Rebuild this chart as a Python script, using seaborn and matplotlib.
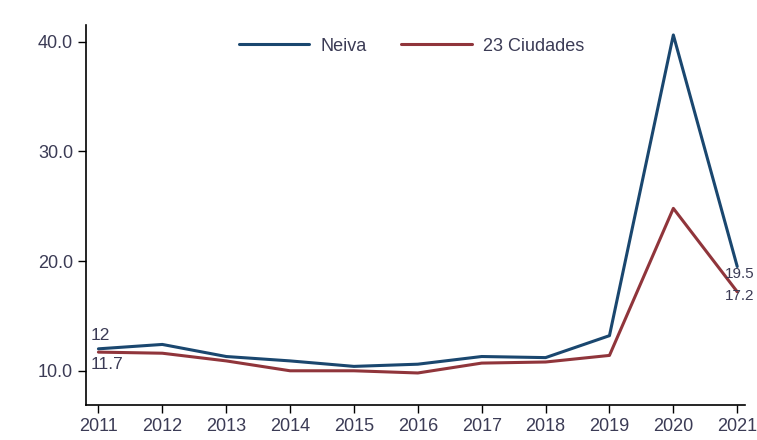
import pandas as pd
import matplotlib
matplotlib.use("Agg")
import matplotlib.pyplot as plt
import seaborn as sns

# =========================
# DATA
# =========================
years = [2011, 2012, 2013, 2014, 2015, 2016, 2017, 2018, 2019, 2020, 2021]

neiva = [12.0, 12.4, 11.3, 10.9, 10.4, 10.6, 11.3, 11.2, 13.2, 40.6, 19.5]

ciudades = [11.7, 11.6, 10.9, 10.0, 10.0, 9.8, 10.7, 10.8, 11.4, 24.8, 17.2]

series_names = ["Neiva", "23 Ciudades"]

df = pd.DataFrame({
    "Año": years * 2,
    "Valor": neiva + ciudades,
    "Serie": [series_names[0]] * len(years) + [series_names[1]] * len(years)
})

# =========================
# STYLE
# =========================
sns.set_style("white")
plt.rcParams["font.family"] = ["Liberation Sans", "DejaVu Sans"]

colors = {"Neiva": "#1a476f", "23 Ciudades": "#90353b"}
text_color = "#3b3b55"

# =========================
# PLOT
# =========================
fig, ax = plt.subplots(figsize=(7.57, 4.40), dpi=100)
fig.subplots_adjust(left=0.114, right=0.984, top=0.943, bottom=0.08)

sns.lineplot(
    data=df,
    x="Año",
    y="Valor",
    hue="Serie",
    palette=colors,
    linewidth=2.2,
    ax=ax
)

ax.set_xlim(2010.81, 2021.12)
ax.set_ylim(6.9, 41.5)
ax.set_xticks(years)
ax.set_yticks([10, 20, 30, 40])
ax.set_yticklabels(["10.0", "20.0", "30.0", "40.0"])
ax.set_xlabel("")
ax.set_ylabel("")

sns.despine(ax=ax)
for side in ["left", "bottom"]:
    ax.spines[side].set_color("black")
    ax.spines[side].set_linewidth(1.2)

ax.tick_params(
    axis="both",
    direction="out",
    length=6,
    width=1,
    color="black",
    labelsize=13,
    labelcolor=text_color,
    left=True,
    bottom=True
)

# =========================
# VALUE LABELS
# =========================
ax.text(years[0] - 0.12, neiva[0] + 0.5, "12",
        fontsize=12.5, color=text_color, ha="left", va="bottom")
ax.text(years[0] - 0.12, ciudades[0] - 0.4, f"{ciudades[0]}",
        fontsize=12.5, color=text_color, ha="left", va="top")
ax.text(years[-1] - 0.19, neiva[-1] - 0.7, f"{neiva[-1]}",
        fontsize=11, color=text_color, ha="left", va="center")
ax.text(years[-1] - 0.19, ciudades[-1] - 0.4, f"{ciudades[-1]}",
        fontsize=11, color=text_color, ha="left", va="center")

# =========================
# LEGEND
# =========================
ax.legend(
    loc="upper center",
    bbox_to_anchor=(0.494, 1.01),
    ncol=2,
    frameon=False,
    handlelength=3.9,
    handletextpad=0.65,
    columnspacing=1.9,
    fontsize=13,
    labelcolor=text_color
)

plt.savefig("out.png", dpi=100)
plt.close()
